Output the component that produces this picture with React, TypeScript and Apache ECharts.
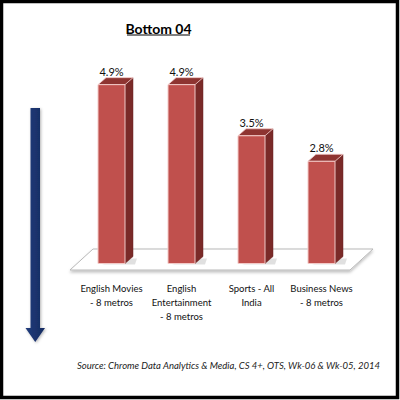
import React, { useEffect, useRef } from "react";
import * as echarts from "echarts";

const categories = [
  "English Movies\n- 8 metros",
  "English\nEntertainment\n- 8 metros",
  "Sports - All\nIndia",
  "Business News\n- 8 metros",
];
const values = [4.9, 4.9, 3.5, 2.8];
const valueLabels = ["4.9%", "4.9%", "3.5%", "2.8%"];
const titleText = "Bottom 04";
const sourceText = "Source: Chrome Data Analytics & Media, CS 4+, OTS, Wk-06 & Wk-05, 2014";

const FONT = "Lato, 'Open Sans', sans-serif";

export default function App() {
  const ref = useRef<HTMLDivElement>(null);
  useEffect(() => {
    if (!ref.current) return;
    const chart = echarts.init(ref.current, undefined, { renderer: "svg" });
    const BW = 27;
    const DX = 8;
    const DY = 7;
    chart.setOption({
      animation: false,
      backgroundColor: "#ffffff",
      grid: { left: 76.5, right: 43.5, top: 44.5, bottom: 136.5 },
      xAxis: {
        type: "category",
        data: categories,
        axisLine: { show: false },
        axisTick: { show: false },
        axisLabel: {
          margin: 18,
          fontFamily: FONT,
          fontSize: 9.5,
          lineHeight: 14,
          color: "#111",
          interval: 0,
          align: "center",
        },
      },
      yAxis: {
        type: "value",
        min: 0,
        max: 6,
        show: false,
        splitLine: { show: false },
      },
      graphic: [
        {
          type: "rect",
          shape: { x: 1.5, y: 1.5, width: 396, height: 396 },
          style: { fill: "none", stroke: "#000", lineWidth: 3.5 },
          z: 100,
        },
        {
          type: "polygon",
          shape: { points: [[93, 249], [373, 249], [350, 270], [70, 270]] },
          style: { fill: "#ffffff", stroke: "#b8b8b8", lineWidth: 1, shadowBlur: 3, shadowColor: "rgba(0,0,0,0.25)", shadowOffsetY: 2 },
          z: -1,
        },
        {
          type: "text",
          x: 158.5,
          y: 28.5,
          style: {
            text: titleText,
            fontFamily: FONT,
            fontSize: 14,
            fontWeight: "bold",
            fill: "#000",
            align: "center",
            verticalAlign: "middle",
          },
        },
        {
          type: "line",
          shape: { x1: 127, y1: 35, x2: 190, y2: 35 },
          style: { stroke: "#000", lineWidth: 1.2 },
        },
        {
          type: "text",
          x: 380,
          y: 365,
          style: {
            text: sourceText,
            fontFamily: FONT,
            fontSize: 9.5,
            fontStyle: "italic",
            fill: "#222",
            align: "right",
            verticalAlign: "middle",
          },
        },
        {
          type: "polygon",
          shape: {
            points: [[30.5, 108], [40, 108], [40, 328], [45, 328], [35.25, 342], [25.5, 328], [30.5, 328]],
          },
          style: {
            fill: new echarts.graphic.LinearGradient(0, 0, 1, 0, [
              { offset: 0, color: "#223d7c" },
              { offset: 1, color: "#142a60" },
            ]),
            shadowBlur: 3,
            shadowColor: "rgba(0,0,0,0.3)",
            shadowOffsetX: 1,
            shadowOffsetY: 1,
          },
        },
      ],
      series: [
        {
          type: "custom",
          data: values.map((v, i) => [i, v]),
          renderItem: (params: any, api: any) => {
            const idx = api.value(0);
            const val = api.value(1);
            const top = api.coord([idx, val]);
            const base = api.coord([idx, 0]);
            const x = top[0] - BW / 2;
            const yT = top[1];
            const yB = base[1];
            return {
              type: "group",
              children: [
                {
                  type: "polygon",
                  shape: { points: [[x + 4, yB + 1], [x + BW + 10, yB + 1], [x + BW + DX + 4, yB - 5], [x + BW + DX, yB - 5]] },
                  style: { fill: "rgba(0,0,0,0.12)" },
                },
                {
                  type: "polygon",
                  shape: { points: [[x + BW, yT], [x + BW + DX, yT - DY], [x + BW + DX, yB - DY], [x + BW, yB]] },
                  style: { fill: "#7a2a28", stroke: "#6a2220", lineWidth: 0.5 },
                },
                {
                  type: "polygon",
                  shape: { points: [[x, yT], [x + DX, yT - DY], [x + BW + DX, yT - DY], [x + BW, yT]] },
                  style: { fill: "#8e3431", stroke: "#f0c8c6", lineWidth: 0.8 },
                },
                {
                  type: "rect",
                  shape: { x, y: yT, width: BW, height: yB - yT },
                  style: { fill: "#c0504d", stroke: "#f2c9c7", lineWidth: 1 },
                },
                {
                  type: "text",
                  x: top[0],
                  y: yT - DY - 1,
                  style: {
                    text: valueLabels[idx],
                    fontFamily: FONT,
                    fontSize: 11,
                    fill: "#111",
                    align: "center",
                    verticalAlign: "bottom",
                  },
                },
              ],
            };
          },
        },
      ],
    });
    return () => chart.dispose();
  }, []);
  return (
    <div
      ref={ref}
      style={{ position: "fixed", left: 0, top: 0, width: 400, height: 400 }}
    />
  );
}
